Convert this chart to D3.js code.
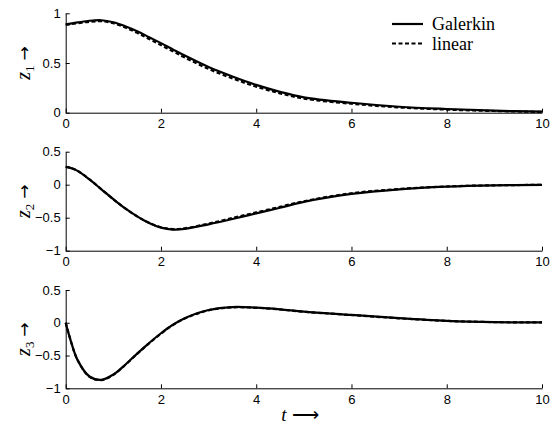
<html>
<head>
<meta charset="utf-8">
<script src="https://cdnjs.cloudflare.com/ajax/libs/d3/7.8.5/d3.min.js"></script>
<style>
  body { margin: 0; background: #fff; }
  svg text { fill: #000; }
</style>
</head>
<body>
<svg width="556" height="426"></svg>
<script>
// time grid shared by all three panels
const tValues = [0, 0.1, 0.25, 0.5, 0.75, 1, 1.25, 1.5, 1.75, 2, 2.25, 2.5, 3, 3.5, 4, 4.5, 5, 6, 7, 8, 9, 10];

const z1Galerkin = [0.89, 0.897, 0.908, 0.925, 0.93, 0.91, 0.87, 0.82, 0.76, 0.70, 0.637, 0.575, 0.46, 0.365, 0.28, 0.21, 0.155, 0.10, 0.06, 0.037, 0.02, 0.01];
const z1Linear   = [0.885, 0.89, 0.90, 0.915, 0.92, 0.90, 0.857, 0.803, 0.742, 0.68, 0.617, 0.555, 0.44, 0.345, 0.262, 0.195, 0.142, 0.09, 0.053, 0.031, 0.017, 0.008];

const z2Galerkin = [0.27, 0.255, 0.21, 0.08, -0.07, -0.22, -0.36, -0.48, -0.58, -0.65, -0.68, -0.67, -0.60, -0.52, -0.435, -0.35, -0.26, -0.14, -0.07, -0.03, -0.01, -0.003];
const z2Linear   = [0.27, 0.255, 0.21, 0.08, -0.07, -0.22, -0.36, -0.48, -0.578, -0.645, -0.672, -0.66, -0.59, -0.505, -0.42, -0.335, -0.25, -0.13, -0.065, -0.027, -0.009, -0.003];

const z3Galerkin = [0, -0.26, -0.57, -0.82, -0.87, -0.79, -0.64, -0.47, -0.31, -0.16, -0.03, 0.07, 0.195, 0.24, 0.23, 0.205, 0.17, 0.12, 0.07, 0.03, 0.01, 0.005];
const z3Linear   = [0, -0.26, -0.57, -0.825, -0.875, -0.795, -0.645, -0.475, -0.315, -0.165, -0.035, 0.065, 0.19, 0.235, 0.228, 0.203, 0.168, 0.118, 0.068, 0.029, 0.01, 0.005];

const xTicks = [0, 2, 4, 6, 8, 10];
const yTicksTop = [0, 0.5, 1];
const yTicksLow = [-1, -0.5, 0, 0.5];
const seriesNames = ["Galerkin", "linear"];

const panels = [
  { sub: "1", top: 13.3, bottom: 112.7, domain: [0, 1], ticks: yTicksTop, gal: z1Galerkin, lin: z1Linear },
  { sub: "2", top: 151.7, bottom: 250.7, domain: [-1, 0.5], ticks: yTicksLow, gal: z2Galerkin, lin: z2Linear },
  { sub: "3", top: 290, bottom: 388.3, domain: [-1, 0.5], ticks: yTicksLow, gal: z3Galerkin, lin: z3Linear }
];

const svg = d3.select("svg");
const x = d3.scaleLinear().domain([0, 10]).range([65.7, 542]);
const fmt = d3.format("~g");
const sans = "'Liberation Sans', Arial, sans-serif";
const serif = "'Liberation Serif', 'Times New Roman', serif";
const arrowFont = "'DejaVu Sans', sans-serif";

panels.forEach(p => {
  const y = d3.scaleLinear().domain(p.domain).range([p.bottom, p.top]);
  const g = svg.append("g");

  const xAxis = g.append("g")
    .attr("transform", `translate(0,${p.bottom})`)
    .call(d3.axisBottom(x).tickValues(xTicks).tickFormat(fmt).tickSizeInner(-4).tickSizeOuter(0).tickPadding(6));
  const yAxis = g.append("g")
    .attr("transform", `translate(${x(0)},0)`)
    .call(d3.axisLeft(y).tickValues(p.ticks).tickFormat(fmt).tickSizeInner(-4).tickSizeOuter(0).tickPadding(5));

  [xAxis, yAxis].forEach(a => {
    a.selectAll("path, line").attr("stroke", "#000").attr("stroke-width", 1);
    a.selectAll("text").attr("font-family", sans).attr("font-size", 13).attr("fill", "#000");
  });

  const line = d3.line()
    .x((d, i) => x(tValues[i]))
    .y(d => y(d))
    .curve(d3.curveCatmullRom.alpha(0.5));

  g.append("path").datum(p.gal)
    .attr("d", line).attr("fill", "none")
    .attr("stroke", "#000").attr("stroke-width", 2.2);
  g.append("path").datum(p.lin)
    .attr("d", line).attr("fill", "none")
    .attr("stroke", "#000").attr("stroke-width", 2.2)
    .attr("stroke-dasharray", "4,2.5");

  // y label  z_i ->
  const cy = (p.top + p.bottom) / 2;
  const lbl = g.append("text")
    .attr("transform", `translate(30,${cy}) rotate(-90)`)
    .attr("text-anchor", "middle")
    .attr("font-family", serif)
    .attr("font-size", 20);
  lbl.append("tspan").attr("font-style", "italic").text("z");
  lbl.append("tspan").attr("font-size", 13).attr("dy", 4).text(p.sub);
  lbl.append("tspan").attr("dy", -4).attr("dx", 5)
    .attr("font-family", arrowFont).attr("font-size", 17).text("\u2192");
});

// x label
const xl = svg.append("text")
  .attr("x", 300).attr("y", 421)
  .attr("text-anchor", "middle")
  .attr("font-family", serif)
  .attr("font-size", 19);
xl.append("tspan").attr("font-style", "italic").text("t");
xl.append("tspan").attr("dx", 5).text("\u27F6");

// legend
const legend = svg.append("g");
seriesNames.forEach((name, i) => {
  const ly = 24 + i * 19.5;
  legend.append("line")
    .attr("x1", 392).attr("x2", 423)
    .attr("y1", ly).attr("y2", ly)
    .attr("stroke", "#000").attr("stroke-width", 2.2)
    .attr("stroke-dasharray", i === 0 ? null : "4,2.5");
  legend.append("text")
    .attr("x", 432).attr("y", ly + 6)
    .attr("font-family", serif)
    .attr("font-size", 18)
    .text(name);
});
</script>
</body>
</html>
